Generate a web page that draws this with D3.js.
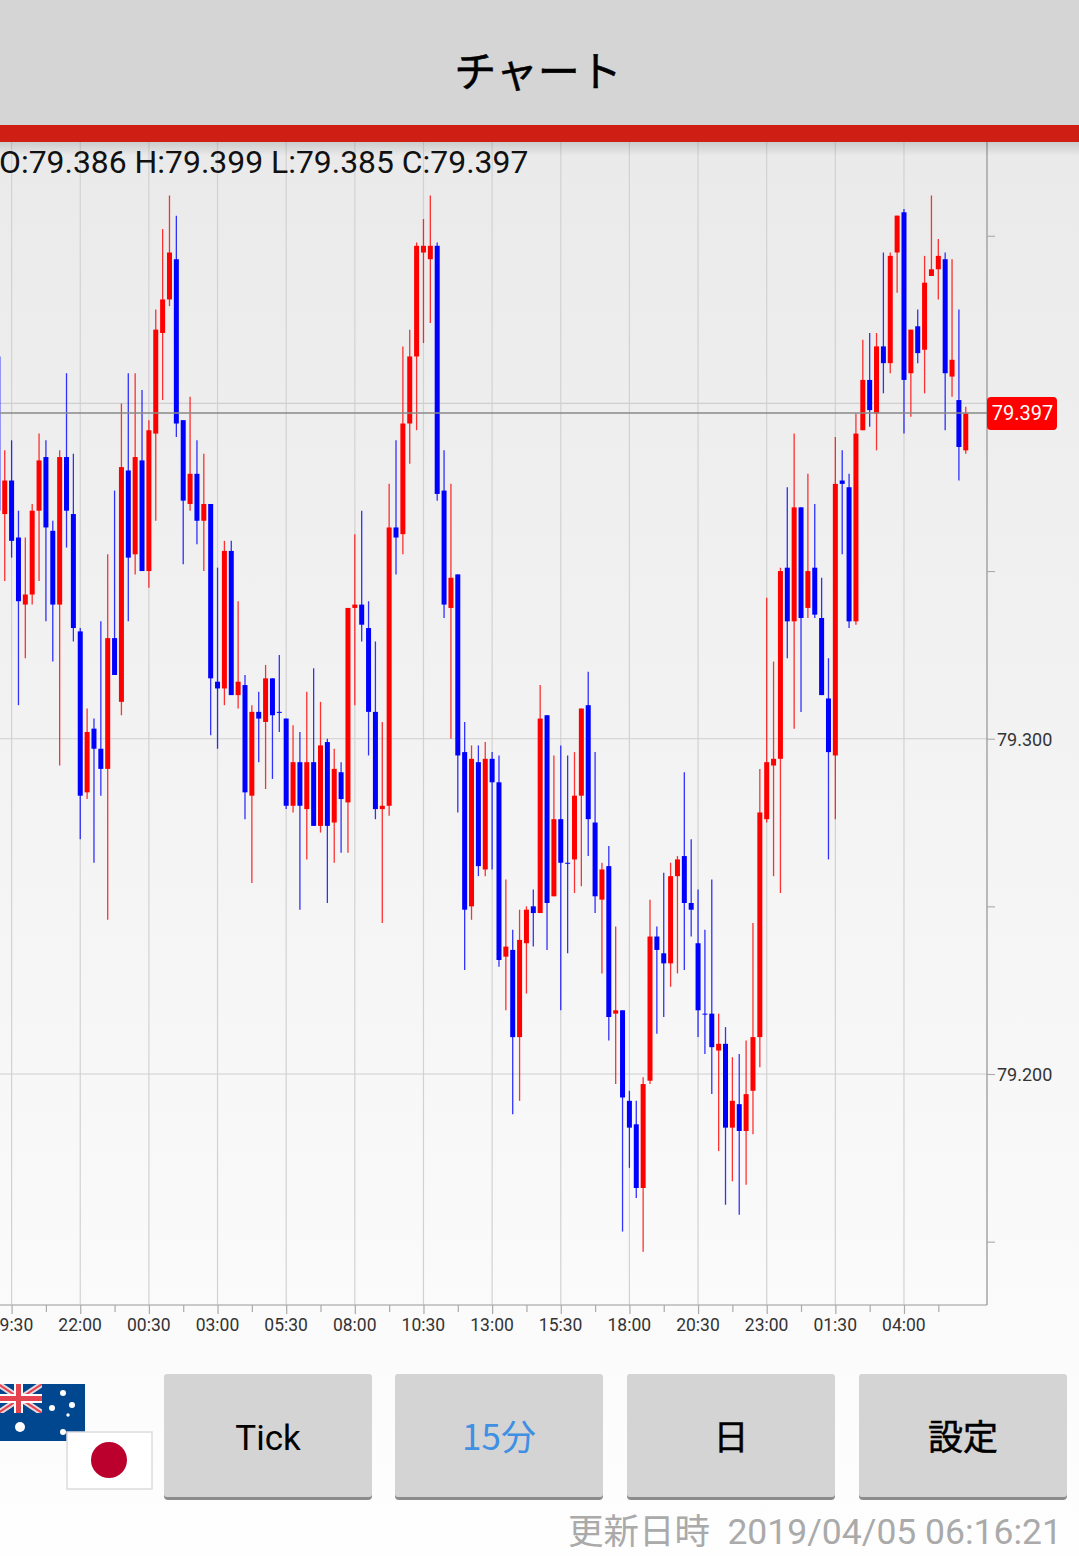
<!DOCTYPE html>
<html>
<head>
<meta charset="utf-8">
<script src="https://cdn.jsdelivr.net/npm/d3@7"></script>
<style>
html, body { margin: 0; padding: 0; background: #fff; overflow: hidden; }
svg { display: block; font-family: Roboto, sans-serif; }
.jp { font-family: "Noto Sans CJK JP", sans-serif; }
</style>
</head>
<body>
<div id="chart"></div>
<script>
// 15 minute candles, oldest first
const opens = [79.414,79.367,79.377,79.360,79.340,79.343,79.368,79.384,79.362,79.340,79.384,79.367,79.332,79.284,79.303,79.297,79.291,79.330,79.311,79.380,
  79.355,79.383,79.350,79.391,79.421,79.431,79.443,79.395,79.370,79.379,79.365,79.370,79.317,79.315,79.356,79.313,79.316,79.283,79.308,79.305,
  79.318,79.308,79.306,79.280,79.293,79.279,79.293,79.274,79.299,79.275,79.290,79.281,79.339,79.340,79.333,79.308,79.279,79.280,79.363,79.361,
  79.394,79.414,79.445,79.443,79.447,79.374,79.339,79.349,79.296,79.250,79.293,79.261,79.294,79.287,79.235,79.237,79.211,79.239,79.250,79.248,
  79.307,79.253,79.276,79.263,79.264,79.283,79.310,79.275,79.252,79.262,79.218,79.219,79.192,79.185,79.166,79.198,79.241,79.236,79.233,79.259,
  79.265,79.251,79.239,79.218,79.218,79.207,79.209,79.184,79.191,79.183,79.195,79.211,79.276,79.292,79.294,79.351,79.335,79.369,79.339,79.351,
  79.336,79.312,79.295,79.377,79.375,79.335,79.392,79.407,79.397,79.417,79.412,79.445,79.457,79.409,79.423,79.416,79.438,79.440,79.443,79.408,
  79.401,79.386];
const highs = [79.414,79.386,79.389,79.368,79.360,79.370,79.391,79.389,79.365,79.386,79.409,79.385,79.333,79.309,79.306,79.335,79.355,79.374,79.400,79.409,
  79.409,79.404,79.395,79.428,79.452,79.462,79.456,79.395,79.402,79.389,79.385,79.370,79.351,79.359,79.359,79.341,79.319,79.310,79.314,79.322,
  79.318,79.325,79.306,79.304,79.302,79.314,79.321,79.311,79.300,79.297,79.293,79.339,79.361,79.368,79.341,79.329,79.305,79.376,79.389,79.417,
  79.422,79.448,79.455,79.462,79.448,79.386,79.376,79.349,79.305,79.298,79.298,79.299,79.296,79.295,79.258,79.243,79.249,79.250,79.255,79.316,
  79.307,79.295,79.298,79.295,79.296,79.309,79.320,79.296,79.263,79.268,79.244,79.219,79.195,79.192,79.199,79.252,79.244,79.260,79.263,79.265,
  79.290,79.270,79.255,79.243,79.258,79.218,79.214,79.205,79.206,79.210,79.245,79.291,79.342,79.323,79.351,79.375,79.391,79.369,79.379,79.370,
  79.348,79.324,79.390,79.386,79.379,79.397,79.419,79.421,79.421,79.445,79.445,79.456,79.458,79.422,79.428,79.444,79.462,79.449,79.445,79.443,
  79.428,79.399];
const lows = [79.368,79.347,79.354,79.310,79.324,79.340,79.347,79.335,79.323,79.292,79.357,79.329,79.270,79.282,79.263,79.283,79.246,79.319,79.307,79.335,
  79.349,79.350,79.345,79.365,79.401,79.429,79.390,79.352,79.368,79.358,79.350,79.301,79.297,79.310,79.313,79.309,79.276,79.257,79.293,79.285,
  79.288,79.302,79.279,79.278,79.249,79.264,79.274,79.272,79.251,79.263,79.266,79.266,79.310,79.329,79.295,79.276,79.245,79.277,79.349,79.355,
  79.382,79.392,79.418,79.424,79.371,79.336,79.300,79.278,79.231,79.246,79.259,79.259,79.261,79.232,79.219,79.188,79.192,79.224,79.238,79.248,
  79.237,79.253,79.219,79.236,79.254,79.256,79.265,79.248,79.230,79.210,79.197,79.153,79.172,79.163,79.147,79.197,79.212,79.217,79.226,79.230,
  79.231,79.241,79.211,79.206,79.194,79.177,79.161,79.168,79.158,79.167,79.182,79.202,79.275,79.259,79.254,79.324,79.303,79.308,79.336,79.336,
  79.313,79.264,79.276,79.355,79.333,79.334,79.392,79.393,79.386,79.403,79.409,79.433,79.391,79.396,79.412,79.403,79.438,79.431,79.392,79.402,
  79.377,79.385];
const closes = [79.368,79.377,79.359,79.341,79.343,79.368,79.383,79.363,79.340,79.384,79.368,79.333,79.283,79.302,79.297,79.291,79.330,79.319,79.381,79.354,
  79.384,79.350,79.392,79.422,79.431,79.445,79.394,79.371,79.379,79.365,79.370,79.318,79.315,79.356,79.313,79.317,79.284,79.308,79.306,79.318,
  79.307,79.308,79.280,79.293,79.280,79.293,79.274,79.298,79.274,79.291,79.282,79.339,79.340,79.334,79.308,79.279,79.280,79.363,79.360,79.394,
  79.414,79.447,79.447,79.447,79.373,79.340,79.348,79.295,79.249,79.294,79.262,79.294,79.287,79.234,79.238,79.211,79.240,79.249,79.248,79.306,
  79.251,79.276,79.263,79.263,79.283,79.309,79.276,79.253,79.261,79.217,79.219,79.193,79.184,79.166,79.197,79.241,79.237,79.233,79.259,79.264,
  79.251,79.249,79.219,79.218,79.208,79.209,79.184,79.192,79.183,79.194,79.211,79.278,79.293,79.294,79.350,79.335,79.369,79.336,79.350,79.337,
  79.313,79.296,79.376,79.376,79.335,79.391,79.407,79.398,79.417,79.412,79.444,79.456,79.407,79.422,79.415,79.436,79.440,79.444,79.409,79.413,
  79.387,79.397];

const timeLabels = ["19:30","22:00","00:30","03:00","05:30","08:00","10:30","13:00","15:30","18:00","20:30","23:00","01:30","04:00"];
const priceTicks = [79.2, 79.3, 79.4];
const priceMinorTicks = [79.15, 79.25, 79.35, 79.45];
const currentPrice = 79.397;
const ohlcText = "O:79.386 H:79.399 L:79.385 C:79.397";
const buttonLabels = ["Tick", "15分", "日", "設定"];
const updatedText = "更新日時";
const updatedTime = "2019/04/05 06:16:21";

const W = 1079, H = 1556;
const plot = {left: 0, right: 987, top: 142, bottom: 1305};
const bodyWidth = 5;

const svg = d3.select("#chart")
    .append("svg")
    .attr("width", W)
    .attr("height", H);

const defs = svg.append("defs");
const bg = defs.append("linearGradient").attr("id", "bg").attr("x1", 0).attr("y1", 0).attr("x2", 0).attr("y2", 1);
bg.append("stop").attr("offset", 0).attr("stop-color", "#e8e8e8");
bg.append("stop").attr("offset", 1).attr("stop-color", "#fefefe");
const shade = defs.append("linearGradient").attr("id", "shade").attr("x1", 0).attr("y1", 0).attr("x2", 0).attr("y2", 1);
shade.append("stop").attr("offset", 0).attr("stop-color", "#000").attr("stop-opacity", 0.13);
shade.append("stop").attr("offset", 1).attr("stop-color", "#000").attr("stop-opacity", 0);
defs.append("clipPath").attr("id", "auClip").append("rect")
    .attr("x", 0).attr("y", 1384).attr("width", 42).attr("height", 29);

svg.append("rect").attr("width", W).attr("height", H).attr("fill", "url(#bg)");

// scales
const xScale = d3.scaleLinear().domain([0, 141]).range([-2.13, 965.77]);
const yScale = d3.scaleLinear().domain([79.2, 79.3]).range([1074, 738.7]);

const majorIdx = timeLabels.map((d, i) => 2 + i * 10);
const minorIdx = timeLabels.map((d, i) => 7 + i * 10);

// gridlines
svg.append("g").selectAll("line")
    .data(majorIdx)
    .join("line")
    .attr("x1", d => xScale(d)).attr("x2", d => xScale(d))
    .attr("y1", plot.top).attr("y2", plot.bottom)
    .attr("stroke", "#d2d2d2").attr("stroke-width", 1.2);

svg.append("g").selectAll("line")
    .data(priceTicks)
    .join("line")
    .attr("x1", plot.left).attr("x2", plot.right)
    .attr("y1", d => yScale(d)).attr("y2", d => yScale(d))
    .attr("stroke", "#cfcfcf").attr("stroke-width", 1.1);

// bottom and right frame
svg.append("line").attr("x1", plot.left).attr("x2", plot.right).attr("y1", plot.bottom).attr("y2", plot.bottom)
    .attr("stroke", "#b8b8b8").attr("stroke-width", 1.3);
svg.append("line").attr("x1", plot.right).attr("x2", plot.right).attr("y1", plot.top).attr("y2", plot.bottom)
    .attr("stroke", "#999").attr("stroke-width", 1.3);

// time axis
const axisX = svg.append("g")
    .attr("transform", `translate(0,${plot.bottom})`)
    .call(d3.axisBottom(xScale).tickValues(majorIdx).tickFormat((d, i) => timeLabels[i]).tickSize(9).tickPadding(5));
axisX.select(".domain").remove();
axisX.selectAll("line").attr("stroke", "#aaa").attr("stroke-width", 1.2);
axisX.selectAll("text").attr("fill", "#333").attr("dx", -0.6).style("font-size", "17.5px").style("font-family", "Roboto");

const axisXMinor = svg.append("g")
    .attr("transform", `translate(0,${plot.bottom})`)
    .call(d3.axisBottom(xScale).tickValues(minorIdx).tickFormat("").tickSize(7));
axisXMinor.select(".domain").remove();
axisXMinor.selectAll("line").attr("stroke", "#aaa").attr("stroke-width", 1.2);

// price axis, the 79.400 label sits behind the price tag in the original so it stays empty
const axisY = svg.append("g")
    .attr("transform", `translate(${plot.right},0)`)
    .call(d3.axisRight(yScale).tickValues(priceTicks).tickFormat(d => d > 79.35 ? "" : d3.format(".3f")(d)).tickSize(8).tickPadding(2));
axisY.select(".domain").remove();
axisY.selectAll("line").attr("stroke", "#aaa").attr("stroke-width", 1.1);
axisY.selectAll("text").attr("fill", "#333").attr("dy", "0.38em").style("font-size", "18px").style("font-family", "Roboto");

const axisYMinor = svg.append("g")
    .attr("transform", `translate(${plot.right},0)`)
    .call(d3.axisRight(yScale).tickValues(priceMinorTicks).tickFormat("").tickSize(8));
axisYMinor.select(".domain").remove();
axisYMinor.selectAll("line").attr("stroke", "#aaa").attr("stroke-width", 1.1);

// candles
const colorOf = i => closes[i] > opens[i] ? "#ff0000" : "#0000ff";

svg.append("g").selectAll("line")
    .data(opens)
    .join("line")
    .attr("x1", (d, i) => xScale(i)).attr("x2", (d, i) => xScale(i))
    .attr("y1", (d, i) => yScale(highs[i])).attr("y2", (d, i) => yScale(lows[i]))
    .attr("stroke", (d, i) => colorOf(i))
    .attr("stroke-opacity", 0.8)
    .attr("stroke-width", 1.3);

svg.append("g").selectAll("rect")
    .data(opens)
    .join("rect")
    .attr("x", (d, i) => xScale(i) - bodyWidth / 2)
    .attr("width", bodyWidth)
    .attr("y", (d, i) => yScale(Math.max(opens[i], closes[i])))
    .attr("height", (d, i) => Math.max(1, Math.abs(yScale(opens[i]) - yScale(closes[i]))))
    .attr("fill", (d, i) => colorOf(i));

// current price line and tag
svg.append("line")
    .attr("x1", plot.left).attr("x2", plot.right)
    .attr("y1", yScale(currentPrice) - 0.5).attr("y2", yScale(currentPrice) - 0.5)
    .attr("stroke", "#888").attr("stroke-width", 1.4);

svg.append("rect")
    .attr("x", plot.right).attr("y", yScale(currentPrice) - 16.5)
    .attr("width", 70).attr("height", 33).attr("rx", 4)
    .attr("fill", "#ff0000");
svg.append("text")
    .attr("x", plot.right + 35.5).attr("y", yScale(currentPrice) + 6.5)
    .attr("text-anchor", "middle").attr("fill", "#fff")
    .style("font-size", "20px")
    .text(d3.format(".3f")(currentPrice));

// OHLC readout
svg.append("text")
    .attr("x", -1).attr("y", 173)
    .attr("fill", "#111")
    .style("font-size", "31.9px")
    .text(ohlcText);

// header
svg.append("rect").attr("width", W).attr("height", 125).attr("fill", "#d5d5d5");
svg.append("rect").attr("y", 142).attr("width", W).attr("height", 14).attr("fill", "url(#shade)");
svg.append("rect").attr("y", 125).attr("width", W).attr("height", 17).attr("fill", "#cf1f14");
svg.append("text")
    .attr("class", "jp")
    .attr("x", 538).attr("y", 87)
    .attr("text-anchor", "middle").attr("fill", "#000")
    .attr("stroke", "#000").attr("stroke-width", 0.5)
    .style("font-size", "42px")
    .text("チャート");

// flags
const au = svg.append("g");
au.append("rect").attr("x", 0).attr("y", 1384).attr("width", 85).attr("height", 57).attr("fill", "#00478f");
const jack = au.append("g").attr("clip-path", "url(#auClip)");
[[-20, 1372, 42, 1413], [-20, 1425, 42, 1384]].forEach(l => {
    jack.append("line").attr("x1", l[0]).attr("y1", l[1]).attr("x2", l[2]).attr("y2", l[3]).attr("stroke", "#e8d8dc").attr("stroke-width", 6);
    jack.append("line").attr("x1", l[0]).attr("y1", l[1]).attr("x2", l[2]).attr("y2", l[3]).attr("stroke", "#e5434f").attr("stroke-width", 2);
});
jack.append("rect").attr("x", 14).attr("y", 1384).attr("width", 9).attr("height", 29).attr("fill", "#fff");
jack.append("rect").attr("x", 0).attr("y", 1394).attr("width", 42).attr("height", 9).attr("fill", "#fff");
jack.append("rect").attr("x", 16).attr("y", 1384).attr("width", 5).attr("height", 29).attr("fill", "#e5434f");
jack.append("rect").attr("x", 0).attr("y", 1396).attr("width", 42).attr("height", 5).attr("fill", "#e5434f");
au.selectAll("circle")
    .data([[63, 1393, 3], [72, 1405, 3], [52, 1408, 3], [68, 1415, 1.7], [63, 1432, 3], [20, 1427, 5]])
    .join("circle")
    .attr("cx", d => d[0]).attr("cy", d => d[1]).attr("r", d => d[2])
    .attr("fill", "#fff");

svg.append("rect").attr("x", 67).attr("y", 1432).attr("width", 85).attr("height", 57)
    .attr("fill", "#fff").attr("stroke", "#dcdcdc").attr("stroke-width", 1.5);
svg.append("circle").attr("cx", 109).attr("cy", 1460).attr("r", 18).attr("fill", "#bc002d");

// buttons
const btnX = [164, 395, 627, 859];
const btn = svg.append("g").selectAll("g")
    .data(buttonLabels)
    .join("g")
    .attr("transform", (d, i) => `translate(${btnX[i]},1374)`);
btn.append("rect").attr("y", 2).attr("width", 208).attr("height", 124).attr("rx", 4).attr("fill", "#8c8c8c");
btn.append("rect").attr("width", 208).attr("height", 123).attr("rx", 3).attr("fill", "#d4d4d4");
btn.append("text")
    .attr("class", "jp")
    .attr("x", 104).attr("y", 76)
    .attr("text-anchor", "middle")
    .attr("fill", (d, i) => i == 1 ? "#3f8fe3" : "#000")
    .attr("stroke", (d, i) => i >= 2 ? "#000" : "none")
    .attr("stroke-width", 0.5)
    .style("font-size", "35px")
    .style("font-family", (d, i) => i == 0 ? "Roboto" : null)
    .text(d => d);

// update time
svg.append("text")
    .attr("x", 1062).attr("y", 1544)
    .attr("text-anchor", "end")
    .attr("fill", "#aaa")
    .style("font-size", "35.5px")
    .text(updatedTime);
svg.append("text")
    .attr("class", "jp")
    .attr("x", 568).attr("y", 1544)
    .attr("fill", "#aaa")
    .style("font-size", "35.5px")
    .text(updatedText);
</script>
</body>
</html>
